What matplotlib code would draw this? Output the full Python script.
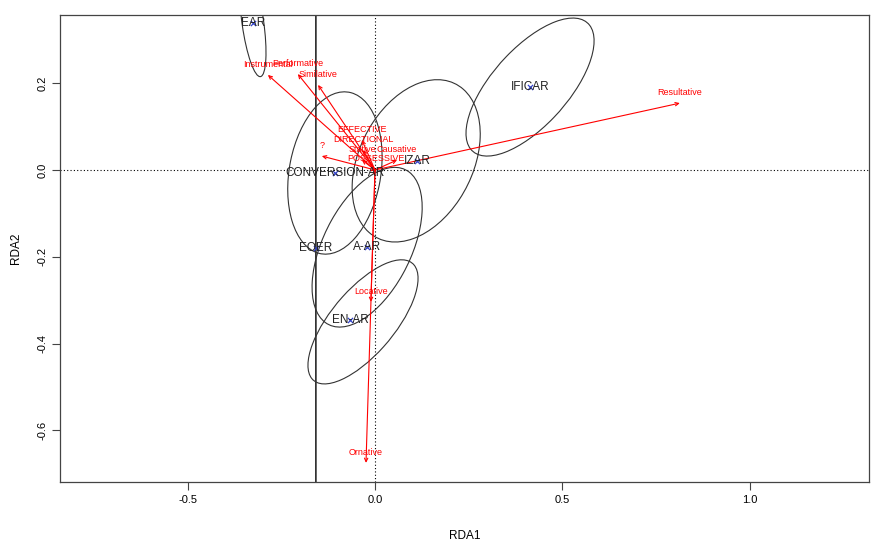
import numpy as np
import matplotlib
matplotlib.use('Agg')
import matplotlib.pyplot as plt
from matplotlib.patches import Ellipse

plt.rcParams['font.family'] = ['Liberation Sans', 'DejaVu Sans']

# group centroids on the first two RDA axes
groups = ['EAR', 'IFICAR', 'IZAR', 'CONVERSION-AR', 'EOER', 'A-AR', 'EN-AR']
cent_x = [-0.326, 0.414, 0.112, -0.107, -0.158, -0.021, -0.067]
cent_y = [0.339, 0.191, 0.021, -0.007, -0.180, -0.178, -0.346]

# ellipse centre and spread of each group (sd along RDA1, sd along RDA2, correlation)
ell_x = [-0.326, 0.414, 0.110, -0.107, -0.158, -0.021, -0.032]
ell_y = [0.339, 0.191, 0.021, -0.007, -0.180, -0.178, -0.350]
sd_x = [0.035, 0.171, 0.171, 0.126, 0.0005, 0.147, 0.147]
sd_y = [0.124, 0.159, 0.187, 0.187, 1.5, 0.184, 0.143]
corr = [-0.55, 0.67, 0.33, 0.20, 0.0, 0.50, 0.70]

# biplot arrows for the constraining variables
variables = ['Instrumental', 'Performative', 'Similative', 'EFFECTIVE', 'DIRECTIONAL',
             '?', 'Stative', 'Causative', 'POSSESSIVE', 'Resultative', 'Locative', 'Ornative']
arrow_x = [-0.286, -0.206, -0.152, -0.035, -0.032, -0.142, -0.035, 0.059, 0.003, 0.814, -0.011, -0.024]
arrow_y = [0.219, 0.221, 0.196, 0.069, 0.046, 0.032, 0.023, 0.023, 0.002, 0.154, -0.304, -0.675]

fig = plt.figure(figsize=(8.71, 5.46), dpi=100)
ax = fig.add_axes([0.0689, 0.1172, 0.9288, 0.8553])
ax.set_xlim(-0.841, 1.319)
ax.set_ylim(-0.719, 0.357)

ax.axhline(0, color='black', ls=(0, (1, 2)), lw=0.8, zorder=1)
ax.axvline(0, color='black', ls=(0, (1, 2)), lw=0.8, zorder=1)

# ellipses from the covariance of each group
for cx, cy, sx, sy, r in zip(ell_x, ell_y, sd_x, sd_y, corr):
    cov = np.array([[sx * sx, r * sx * sy], [r * sx * sy, sy * sy]])
    vals, vecs = np.linalg.eigh(cov)
    ang = np.degrees(np.arctan2(vecs[1, 1], vecs[0, 1]))
    ax.add_patch(Ellipse((cx, cy), 2 * np.sqrt(vals[1]), 2 * np.sqrt(vals[0]),
                         angle=ang, fill=False, ec='#333333', lw=0.8, zorder=2))

for name, x, y in zip(variables, arrow_x, arrow_y):
    ax.annotate('', xy=(x, y), xytext=(0, 0),
                arrowprops=dict(arrowstyle='->,head_length=0.25,head_width=0.12',
                                color='red', lw=0.8, shrinkA=0, shrinkB=0), zorder=3)
    ax.annotate(name, xy=(x, y), xytext=(0, 7.5), textcoords='offset points',
                ha='center', va='center', color='red', fontsize=6.5, zorder=4)

ax.scatter(cent_x, cent_y, marker='x', s=14, color='#3344cc', lw=0.9, zorder=5)
for name, x, y in zip(groups, cent_x, cent_y):
    ax.text(x, y, name, ha='center', va='center', fontsize=8.5, color='#222222', zorder=6)

ax.set_xticks([-0.5, 0.0, 0.5, 1.0])
ax.set_xticklabels(['-0.5', '0.0', '0.5', '1.0'])
ax.set_yticks([-0.6, -0.4, -0.2, 0.0, 0.2])
ax.set_yticklabels(['-0.6', '-0.4', '-0.2', '0.0', '0.2'], rotation=90, va='center')
ax.tick_params(labelsize=8, length=6, width=0.8, color='#444444', pad=3)
for s in ax.spines.values():
    s.set_color('#444444')
    s.set_linewidth(0.9)

ax.set_xlabel('RDA1', fontsize=8.5, labelpad=18)
ax.set_ylabel('RDA2', fontsize=8.5, labelpad=11)

fig.savefig('out.png', dpi=100)
